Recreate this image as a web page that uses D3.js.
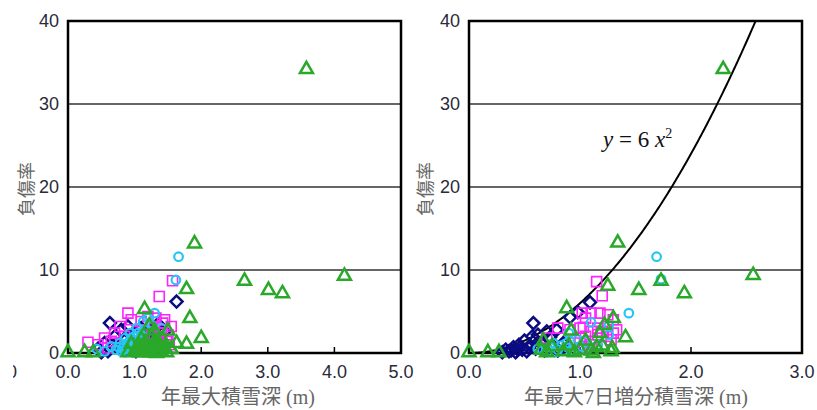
<!DOCTYPE html>
<html><head><meta charset="utf-8">
<script src="https://cdn.jsdelivr.net/npm/d3@7"></script>
<style>body{margin:0;background:#fff}svg{display:block}</style>
</head><body>
<svg id="c" width="817" height="410"></svg>
<script>
// ---------- data ----------
const yTicks = [0, 10, 20, 30, 40];
const leftXTicks = [0, 1, 2, 3, 4, 5];
const rightXTicks = [0, 1, 2, 3];
const yLabel = "負傷率";
const leftXLabel = "年最大積雪深 (m)";
const rightXLabel = "年最大7日増分積雪深 (m)";
const curveCoef = 6;

// left panel: [年最大積雪深, 負傷率]
const leftNavy = [[0.63,3.6],[1.63,6.2],[0.45,0.5],[0.55,1.2],[0.7,2.0],[0.75,0.8],[0.8,2.8],[0.85,1.5],[0.9,3.2],[0.95,0.4],[1.0,2.4],[1.05,1.2],[1.1,3.0],[1.15,2.0],[1.2,1.6],[1.25,2.8],[1.3,2.2],[1.35,3.5],[1.4,1.0],[1.45,2.6],[0.6,0.2],[0.68,0.9],[0.88,0.6],[1.02,0.2],[1.18,0.8],[1.28,0.4],[0.5,0.1]];
const leftMagenta = [[0.3,1.3],[0.45,1.0],[0.55,1.8],[0.9,4.8],[1.37,6.8],[1.57,8.7],[0.6,0.6],[0.7,2.4],[0.78,3.2],[0.85,2.0],[0.95,4.0],[1.0,1.4],[1.05,2.6],[1.1,3.8],[1.15,1.8],[1.2,4.4],[1.25,2.2],[1.3,3.2],[1.35,1.6],[1.4,2.8],[1.45,4.0],[1.5,2.2],[1.55,3.2],[1.42,3.6],[1.38,2.4],[1.48,1.4],[0.65,1.4],[1.12,2.8],[1.32,4.2],[1.52,1.0]];
const leftCyan = [[0.43,0.5],[1.66,11.6],[1.62,8.8],[1.3,4.8],[0.55,0.2],[0.65,0.8],[0.72,0.4],[0.78,1.2],[0.82,0.6],[0.86,1.8],[0.9,1.0],[0.93,2.4],[0.96,0.3],[1.0,1.5],[1.03,3.0],[1.06,0.8],[1.1,2.2],[1.13,3.8],[1.16,1.2],[1.2,4.2],[0.88,0.2],[0.98,0.7],[1.08,1.6],[0.8,0.2],[1.0,2.0],[1.12,0.4],[0.92,1.4],[1.18,2.8],[1.25,3.4],[1.4,3.0],[0.84,1.0],[0.95,1.8],[1.02,1.0],[0.9,0.5],[1.05,2.4],[0.76,0.7],[0.86,0.1],[0.99,0.1]];
const leftGreen = [[0.0,0.2],[0.25,0.2],[0.38,0.2],[1.15,5.4],[1.9,13.3],[3.58,34.3],[2.65,8.8],[3.01,7.7],[3.22,7.3],[4.15,9.4],[1.78,7.8],[1.83,4.3],[2.0,1.9],[1.78,1.2],[1.63,1.3],[1.5,2.8],[1.45,0.8],[1.4,0.3],[1.35,1.5],[1.3,0.5],[1.25,2.2],[1.2,1.0],[1.15,0.2],[1.1,1.8],[1.05,0.6],[1.0,0.3],[0.95,1.2],[1.22,3.4],[1.3,2.8],[1.12,0.9],[1.38,0.9],[1.28,1.3],[1.18,0.5],[1.08,0.2],[1.48,0.2],[1.55,0.6],[0.9,0.2],[1.24,0.2],[1.33,0.1],[1.42,1.8],[1.16,1.4],[1.27,0.8],[1.36,0.4],[1.06,1.1],[1.21,0.3]];

// right panel: [年最大7日増分積雪深, 負傷率]
const rightNavy = [[0.3,0.1],[0.33,0.4],[0.36,0.2],[0.4,0.7],[0.42,0.1],[0.45,1.0],[0.48,0.4],[0.5,1.5],[0.52,0.2],[0.55,0.9],[0.57,2.0],[0.58,3.6],[0.6,0.5],[0.62,2.2],[0.65,1.2],[0.68,0.3],[0.7,2.6],[0.73,1.9],[0.76,0.8],[0.79,2.8],[0.85,1.2],[0.91,4.3],[0.98,4.9],[1.09,6.1],[0.44,0.4],[0.38,0.3],[0.54,0.6],[0.6,1.6],[0.8,0.3]];
const rightMagenta = [[1.15,8.6],[1.2,6.9],[0.7,1.8],[0.91,2.8],[1.02,4.8],[1.1,4.8],[1.18,4.8],[1.25,4.6],[1.03,3.1],[1.16,3.0],[1.33,2.8],[1.16,2.2],[0.95,1.2],[1.0,3.0],[1.05,4.2],[1.1,2.6],[1.2,2.6],[1.25,3.2],[1.28,1.6],[1.3,4.0],[1.1,1.0],[1.0,1.8],[1.05,2.0],[1.3,2.4],[0.8,3.0],[1.02,0.6],[1.24,2.0]];
const rightCyan = [[1.69,11.6],[1.73,8.9],[1.44,4.8],[1.1,3.7],[1.26,3.3],[1.26,2.2],[0.9,2.4],[1.04,1.4],[0.66,0.3],[0.73,0.7],[0.85,0.3],[0.9,0.6],[0.95,0.2],[1.0,0.8],[0.8,0.4],[0.76,1.2],[0.88,1.2],[0.98,1.6],[1.06,0.3],[0.7,0.1],[0.83,0.9],[0.93,0.3],[1.16,1.0],[0.62,0.5],[0.78,0.1]];
const rightGreen = [[0,0.2],[0.17,0.2],[0.27,0.2],[2.29,34.3],[2.56,9.5],[1.34,13.4],[1.73,8.8],[1.53,7.7],[1.94,7.3],[1.41,2.0],[1.25,8.2],[0.88,5.5],[1.3,4.3],[1.29,0.7],[1.2,1.0],[1.22,3.5],[1.1,0.4],[1.05,1.6],[0.95,0.2],[0.9,1.0],[0.85,0.3],[0.75,0.9],[0.7,0.2],[1.15,0.8],[1.18,2.5],[1.0,0.5],[0.67,1.6],[1.28,0.3],[0.92,2.8],[0.65,0.5],[1.12,0.1]];

// ---------- drawing ----------
const svg = d3.select("#c");
const styles = {
  navy:    {color:"#0b0b82", shape:"diamond"},
  magenta: {color:"#ff22ff", shape:"square"},
  cyan:    {color:"#26c6f2", shape:"circle"},
  green:   {color:"#2aa82a", shape:"triangle"}
};
const shapes = {
  triangle: "M0,-6.5L6.5,4.8L-6.5,4.8Z",
  diamond: "M0,-6L6,0L0,6L-6,0Z",
  square: "M-5,-5L5,-5L5,5L-5,5Z"
};

const plotTop = 21, plotBottom = 353;
const panels = [
  {x0:68, x1:401, xmax:5, ticks:leftXTicks, label:leftXLabel, labelX:238, yLabX:27, partial:true,
   series:{navy:leftNavy, magenta:leftMagenta, cyan:leftCyan, green:leftGreen}, curve:false},
  {x0:469, x1:802, xmax:3, ticks:rightXTicks, label:rightXLabel, labelX:636, yLabX:426, partial:false,
   series:{navy:rightNavy, magenta:rightMagenta, cyan:rightCyan, green:rightGreen}, curve:true}
];

panels.forEach((p, i) => {
  const x = d3.scaleLinear().domain([0, p.xmax]).range([p.x0, p.x1]);
  const y = d3.scaleLinear().domain([0, 40]).range([plotBottom, plotTop]);
  const g = svg.append("g");

  g.selectAll("line.grid").data(yTicks.filter(t => t > 0 && t < 40)).join("line")
    .attr("x1", p.x0).attr("x2", p.x1).attr("y1", d => y(d)).attr("y2", d => y(d))
    .attr("stroke", "#333").attr("stroke-width", 1.5);

  g.selectAll("line.xt").data(p.ticks.slice(1, -1)).join("line")
    .attr("x1", d => x(d)).attr("x2", d => x(d)).attr("y1", plotBottom).attr("y2", plotBottom - 6)
    .attr("stroke", "#000").attr("stroke-width", 1.5);

  g.append("rect").attr("x", p.x0).attr("y", plotTop).attr("width", p.x1 - p.x0).attr("height", plotBottom - plotTop)
    .attr("fill", "none").attr("stroke", "#000").attr("stroke-width", 2.5);

  if (p.curve) {
    const clipId = "clip" + i;
    svg.append("clipPath").attr("id", clipId).append("rect")
      .attr("x", p.x0).attr("y", plotTop).attr("width", p.x1 - p.x0).attr("height", plotBottom - plotTop);
    const xs = d3.range(0, 2.6, 0.01);
    g.append("path").attr("clip-path", `url(#${clipId})`)
      .attr("d", d3.line().x(d => x(d)).y(d => y(curveCoef * d * d))(xs))
      .attr("fill", "none").attr("stroke", "#000").attr("stroke-width", 2);
    const t = g.append("text").attr("x", 603).attr("y", 147)
      .attr("font-family", "'Liberation Serif', 'DejaVu Serif', serif").attr("font-size", 23).attr("fill", "#111");
    t.append("tspan").attr("font-style", "italic").text("y");
    t.append("tspan").text(" = 6 ");
    t.append("tspan").attr("font-style", "italic").text("x");
    t.append("tspan").attr("font-size", 14).attr("dy", -9).text("2");
  }

  ["navy", "magenta", "cyan", "green"].forEach(k => {
    const st = styles[k];
    const data = p.series[k];
    if (st.shape === "circle") {
      g.selectAll("circle." + k).data(data).join("circle")
        .attr("cx", d => x(d[0])).attr("cy", d => y(d[1])).attr("r", 4.3)
        .attr("fill", "none").attr("stroke", st.color).attr("stroke-width", 2.2);
    } else {
      g.selectAll("path." + k).data(data).join("path")
        .attr("transform", d => `translate(${x(d[0])},${y(d[1])})`)
        .attr("d", shapes[st.shape])
        .attr("fill", "none").attr("stroke", st.color)
        .attr("stroke-width", st.shape === "square" ? 1.6 : 2.5);
    }
  });

  g.selectAll("text.yt").data(yTicks).join("text")
    .attr("x", p.x0 - 9).attr("y", d => y(d)).attr("dy", "0.36em").attr("text-anchor", "end")
    .attr("font-family", "'Liberation Sans', Arial, sans-serif").attr("font-size", 18).attr("fill", "#2a2a3a")
    .text(d => d);

  g.selectAll("text.xl").data(p.ticks).join("text")
    .attr("x", d => x(d)).attr("y", 378).attr("text-anchor", "middle")
    .attr("font-family", "'Liberation Sans', Arial, sans-serif").attr("font-size", 18).attr("fill", "#2a2a3a")
    .text(d => d.toFixed(1));

  if (p.partial) {
    svg.append("clipPath").attr("id", "pc").append("rect").attr("x", 13).attr("y", 355).attr("width", 10).attr("height", 30);
    g.append("text").attr("clip-path", "url(#pc)").attr("x", 12).attr("y", 378).attr("text-anchor", "middle")
      .attr("font-family", "'Liberation Sans', Arial, sans-serif").attr("font-size", 18).attr("fill", "#2a2a3a").text("0");
  }

  g.append("text").attr("x", p.labelX).attr("y", 404).attr("text-anchor", "middle")
    .attr("font-family", "'Liberation Serif', 'Noto Sans CJK JP', serif").attr("font-size", 20).attr("fill", "#666")
    .text(p.label);
  g.append("text").attr("transform", `translate(${p.yLabX},189) rotate(-90)`).attr("text-anchor", "middle")
    .attr("dy", "0.35em")
    .attr("font-family", "'Noto Sans CJK JP', sans-serif").attr("font-size", 18).attr("fill", "#666")
    .text(yLabel);
});
</script>
</body></html>
